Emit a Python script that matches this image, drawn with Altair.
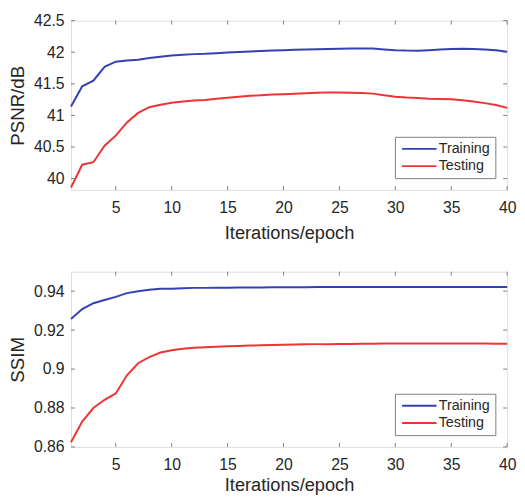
import altair as alt
import pandas as pd

epochs = list(range(1, 41))

psnr_train = [41.14, 41.46, 41.55, 41.77, 41.85, 41.87, 41.88, 41.91, 41.93, 41.95,
              41.96, 41.97, 41.975, 41.985, 41.995, 42.005, 42.013, 42.02, 42.027, 42.033,
              42.038, 42.043, 42.048, 42.053, 42.056, 42.058, 42.058, 42.058, 42.045, 42.033,
              42.026, 42.023, 42.033, 42.045, 42.053, 42.055, 42.053, 42.043, 42.033, 42.008]
psnr_test = [39.86, 40.22, 40.26, 40.52, 40.68, 40.89, 41.04, 41.13, 41.17, 41.20,
             41.22, 41.235, 41.245, 41.265, 41.28, 41.295, 41.31, 41.32, 41.33, 41.336,
             41.343, 41.35, 41.358, 41.365, 41.363, 41.36, 41.355, 41.345, 41.32, 41.295,
             41.283, 41.275, 41.265, 41.26, 41.255, 41.24, 41.22, 41.195, 41.165, 41.12]

ssim_train = [0.9257, 0.9308, 0.9338, 0.9355, 0.9371, 0.9390, 0.9400, 0.9407, 0.9412, 0.9413,
              0.9415, 0.9417, 0.9417, 0.9418, 0.9418, 0.9419, 0.9419, 0.9419, 0.9420, 0.9420,
              0.9420, 0.9420, 0.9421, 0.9421, 0.9421, 0.9421, 0.9422, 0.9422, 0.9422, 0.9422,
              0.9422, 0.9422, 0.9422, 0.9422, 0.9422, 0.9422, 0.9422, 0.9422, 0.9422, 0.9422]
ssim_test = [0.8624, 0.8730, 0.8800, 0.8842, 0.8875, 0.8968, 0.9030, 0.9061, 0.9085, 0.9097,
             0.9104, 0.9109, 0.9112, 0.9115, 0.9117, 0.9119, 0.9121, 0.9122, 0.9124, 0.9125,
             0.9126, 0.9127, 0.9128, 0.9128, 0.9129, 0.9129, 0.9130, 0.9130, 0.9131, 0.9131,
             0.9131, 0.9131, 0.9131, 0.9131, 0.9131, 0.9131, 0.9131, 0.9131, 0.9130, 0.9130]

series_names = ["Training", "Testing"]
x_ticks = [5, 10, 15, 20, 25, 30, 35, 40]
psnr_ticks = [40, 40.5, 41, 41.5, 42, 42.5]
ssim_ticks = [0.86, 0.88, 0.9, 0.92, 0.94]

BLUE = "#3341b4"
RED = "#ee3434"
GREY = "#7f7f7f"
TXT = "#262626"
FONT = "Liberation Sans"
W = 443
TICK = 4


def panel(train, test, ytitle, ydomain, yticks, height, xtitle_pad):
    df = pd.DataFrame({
        "epoch": epochs * 2,
        "value": train + test,
        "series": [series_names[0]] * len(epochs) + [series_names[1]] * len(epochs),
    })
    xs = alt.Scale(domain=[1, 40], nice=False, zero=False)
    ys = alt.Scale(domain=ydomain, nice=False, zero=False)
    xax = alt.Axis(values=x_ticks, title="Iterations/epoch", ticks=False,
                   domain=False, grid=False, labelPadding=10, titlePadding=xtitle_pad,
                   labelFontSize=16, titleFontSize=18.5, labelFont=FONT,
                   titleFont=FONT, labelColor=TXT, titleColor=TXT,
                   titleFontWeight="normal", labelFlush=False)
    yax = alt.Axis(values=yticks, title=ytitle, ticks=False, domain=False, format="~g",
                   grid=False, labelPadding=7, titlePadding=6,
                   labelFontSize=16, titleFontSize=19, labelFont=FONT,
                   titleFont=FONT, labelColor=TXT, titleColor=TXT,
                   titleFontWeight="normal", labelFlush=False)
    lines = alt.Chart(df).mark_line(strokeWidth=2).encode(
        x=alt.X("epoch:Q", scale=xs, axis=xax),
        y=alt.Y("value:Q", scale=ys, axis=yax),
        color=alt.Color("series:N", sort=series_names,
                        scale=alt.Scale(domain=series_names, range=[BLUE, RED]),
                        legend=alt.Legend(title=None, orient="bottom-right", offset=12,
                                          strokeColor=GREY, fillColor="white", padding=5,
                                          symbolType="M-1,0H6", symbolSize=100,
                                          symbolStrokeWidth=2, labelFontSize=14.5,
                                          labelFont=FONT, labelColor=TXT, labelOffset=25,
                                          rowPadding=2.5)),
    )
    xt = pd.DataFrame({"t": x_ticks})
    yt = pd.DataFrame({"t": yticks})
    xbot = alt.Chart(xt).mark_rule(color=GREY, strokeWidth=1).encode(
        x=alt.X("t:Q", scale=xs, axis=xax), y=alt.value(height), y2=alt.value(height - TICK))
    xtop = alt.Chart(xt).mark_rule(color=GREY, strokeWidth=1).encode(
        x=alt.X("t:Q", scale=xs, axis=xax), y=alt.value(0), y2=alt.value(TICK))
    yl = alt.Chart(yt).mark_rule(color=GREY, strokeWidth=1).encode(
        y=alt.Y("t:Q", scale=ys, axis=yax), x=alt.value(0), x2=alt.value(TICK))
    yr = alt.Chart(yt).mark_rule(color=GREY, strokeWidth=1).encode(
        y=alt.Y("t:Q", scale=ys, axis=yax), x=alt.value(W - TICK), x2=alt.value(W))
    return alt.layer(lines, xbot, xtop, yl, yr).properties(width=W, height=height)


top = panel(psnr_train, psnr_test, "PSNR/dB", [39.82, 42.5], psnr_ticks, 172, 8)
bottom = panel(ssim_train, ssim_test, "SSIM", [0.86, 0.95], ssim_ticks, 178, 3)

chart = alt.vconcat(top, bottom, spacing=29).resolve_scale(
    color="independent"
).resolve_legend(color="independent").properties(
    padding={"left": 0, "top": 0, "right": 0, "bottom": 0}
).configure_view(stroke=GREY, strokeWidth=1).configure(background="white")

chart.save("out.html", embed_options={"renderer": "svg", "actions": False})
